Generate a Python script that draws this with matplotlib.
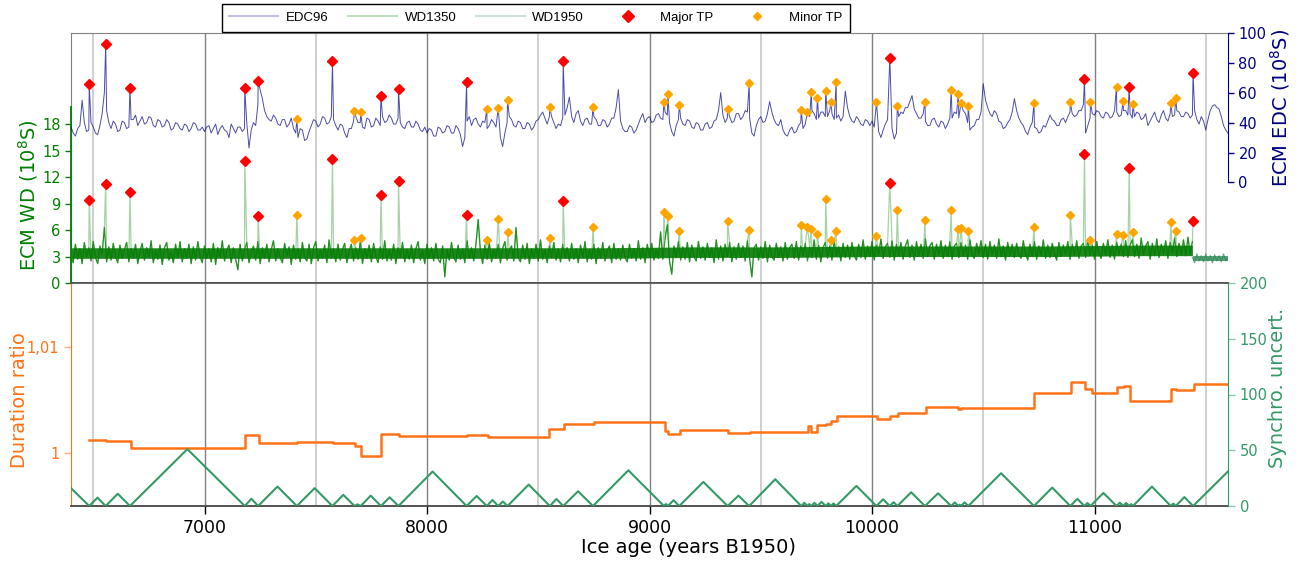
import numpy as np
import matplotlib
matplotlib.use("Agg")
import matplotlib.pyplot as plt
from matplotlib.lines import Line2D

# ── data ─────────────────────────────────────────────────────────────────────
# EDC96 ECM, one value every 10 years, 6400 → 11600 (10^8 S)
edc_age = np.arange(6400, 11601, 10)
edc96 = [37, 33, 31, 36, 38, 55, 40, 34, 35, 40, 37, 33, 32, 38, 46, 60, 48, 40, 36, 41,
         39, 34, 35, 41, 40, 36, 37, 42, 42, 45, 38, 41, 44, 39, 40, 44, 43, 38, 37, 42,
         41, 37, 38, 42, 40, 35, 36, 40, 39, 36, 35, 39, 38, 34, 36, 40, 39, 35, 35, 37,
         34, 37, 38, 33, 36, 39, 32, 36, 38, 35, 34, 30, 39, 36, 33, 37, 37, 34, 36, 40,
         23, 35, 40, 38, 52, 62, 56, 48, 44, 42, 41, 45, 43, 39, 38, 42, 42, 37, 39, 43,
         36, 33, 30, 36, 35, 28, 29, 34, 38, 42, 41, 37, 39, 44, 43, 39, 40, 44, 42, 38,
         35, 39, 38, 33, 30, 36, 36, 41, 44, 40, 40, 37, 36, 43, 42, 37, 38, 43, 41, 38,
         44, 40, 41, 45, 43, 39, 39, 43, 40, 37, 36, 40, 41, 37, 37, 41, 39, 35, 34, 37,
         33, 36, 35, 31, 31, 37, 36, 33, 34, 38, 37, 33, 33, 38, 36, 32, 24, 30, 41, 44,
         38, 42, 43, 39, 37, 41, 40, 36, 38, 42, 40, 37, 36, 30, 24, 33, 40, 44, 42, 38,
         37, 41, 40, 36, 36, 40, 39, 35, 37, 41, 42, 45, 47, 43, 39, 44, 44, 40, 36, 39,
         38, 43, 45, 50, 57, 44, 40, 46, 48, 41, 38, 42, 43, 39, 39, 44, 42, 38, 38, 42,
         41, 37, 39, 43, 43, 50, 62, 41, 36, 34, 34, 38, 37, 33, 35, 39, 43, 46, 40, 43,
         44, 40, 41, 45, 46, 43, 42, 47, 45, 40, 34, 31, 38, 42, 43, 39, 38, 42, 41, 37,
         36, 40, 39, 35, 35, 39, 40, 36, 37, 41, 42, 48, 60, 45, 40, 43, 44, 40, 41, 46,
         46, 42, 44, 48, 47, 43, 33, 31, 38, 42, 44, 40, 41, 46, 54, 47, 42, 39, 38, 42,
         35, 32, 31, 35, 37, 33, 34, 38, 40, 36, 39, 43, 44, 48, 46, 42, 43, 47, 47, 44,
         44, 48, 46, 42, 43, 45, 41, 44, 61, 50, 44, 41, 40, 44, 42, 39, 38, 42, 41, 38,
         41, 37, 38, 34, 30, 35, 39, 42, 40, 36, 29, 33, 44, 47, 46, 50, 50, 54, 58, 49,
         46, 43, 43, 46, 41, 38, 38, 42, 43, 39, 37, 41, 40, 36, 39, 43, 43, 47, 46, 43,
         44, 48, 46, 40, 35, 37, 38, 42, 42, 47, 66, 55, 50, 46, 44, 48, 46, 41, 40, 36,
         37, 40, 42, 47, 56, 48, 43, 40, 38, 34, 32, 37, 40, 37, 36, 33, 34, 38, 37, 41,
         45, 42, 41, 38, 38, 42, 43, 40, 44, 47, 46, 44, 45, 48, 48, 52, 33, 38, 43, 46,
         45, 48, 47, 44, 43, 47, 46, 43, 44, 48, 47, 44, 45, 48, 48, 45, 46, 43, 44, 47,
         46, 42, 43, 46, 38, 41, 44, 47, 42, 40, 45, 48, 43, 41, 46, 44, 45, 48, 47, 44,
         44, 47, 46, 43, 45, 48, 42, 39, 44, 41, 35, 42, 48, 51, 52, 50, 49, 44, 38, 35,
         33]

# WD1350 ECM, one value every 10 years, 6400 → 11440 (10^8 S)
wd_age = np.arange(6400, 11441, 10)
wd1350 = [3.1, 2.3, 4.4, 2.7, 3.9, 2.2, 4.6, 3.0, 4.0, 2.5, 4.7, 2.9, 2.2, 4.2, 3.3, 6.3, 2.4, 4.1, 2.6, 4.5, 3.0, 2.3, 4.3, 2.8, 3.8,
          4.6, 2.4, 3.9, 2.8, 4.4, 2.2, 3.6, 4.5, 2.6, 4.0, 2.9, 4.8, 2.3, 3.7, 2.7, 4.3, 2.1, 4.0, 4.6, 2.6, 3.5, 2.3, 4.4, 2.9, 4.7,
          2.4, 3.9, 2.8, 4.4, 2.2, 4.1, 2.6, 4.7, 3.0, 2.3, 4.2, 2.8, 3.9, 2.4, 4.5, 2.1, 4.0, 2.9, 4.8, 2.5, 3.7, 4.3, 2.3, 4.0, 2.7,
          1.5, 4.4, 2.5, 3.8, 4.6, 2.3, 3.5, 4.2, 2.6, 4.7, 2.2, 4.0, 2.8, 4.4, 2.4, 3.8, 4.8, 2.5, 3.9, 2.9, 2.3, 4.5, 3.0, 4.1, 2.1,
          4.3, 2.7, 3.9, 2.4, 4.6, 2.9, 2.5, 4.4, 2.2, 4.0, 4.7, 2.5, 3.7, 2.8, 4.3, 2.3, 4.9, 2.8, 3.9, 2.4, 4.4, 2.6, 3.8, 4.5, 2.3,
          3.6, 4.4, 2.5, 4.0, 2.7, 4.7, 2.2, 3.9, 2.8, 4.3, 2.4, 4.5, 3.0, 2.3, 4.1, 2.7, 4.8, 2.5, 3.8, 2.6, 4.4, 2.2, 4.0, 2.9, 4.6,
          2.4, 3.8, 2.7, 4.3, 2.3, 3.9, 4.7, 2.6, 3.7, 2.2, 4.4, 2.8, 4.0, 2.5, 4.5, 2.7, 2.3, 4.2, 0.7, 3.8, 2.6, 4.6, 2.9, 2.4, 4.3,
          2.7, 3.9, 2.3, 4.8, 2.8, 4.0, 2.5, 4.4, 7.2, 3.6, 2.2, 4.3, 2.7, 4.6, 2.4, 3.8, 2.8, 4.4, 2.3, 3.9, 4.7, 2.6, 3.7, 4.2, 2.5,
          6.3, 2.9, 2.4, 4.3, 2.7, 4.5, 2.2, 3.9, 2.8, 4.4, 2.5, 4.9, 2.7, 3.8, 2.3, 4.2, 2.9, 4.6, 2.6, 3.9, 2.4, 4.4, 2.8, 4.0, 2.5,
          4.5, 2.7, 3.9, 2.3, 4.3, 2.9, 4.7, 2.4, 3.8, 2.7, 4.4, 2.2, 4.0, 2.8, 4.6, 2.5, 3.7, 4.2, 2.3, 4.5, 2.7, 3.9, 2.6, 4.3, 2.9,
          2.4, 4.4, 2.8, 3.9, 2.5, 4.8, 2.7, 4.0, 2.3, 4.4, 2.9, 4.5, 2.6, 3.8, 2.8, 5.8, 2.7, 5.0, 6.6, 2.5, 1.0, 4.2, 2.9, 4.7, 2.6,
          4.1, 2.7, 4.6, 2.4, 4.3, 3.0, 2.5, 4.7, 2.8, 4.1, 2.6, 4.5, 2.9, 4.0, 2.3, 4.9, 2.7, 4.2, 2.5, 4.4, 3.0, 4.6, 2.4, 4.1, 2.7,
          4.5, 2.9, 4.2, 2.5, 4.8, 2.7, 0.7, 4.0, 4.4, 2.6, 4.1, 2.8, 4.7, 2.4, 4.3, 3.0, 2.6, 4.5, 2.9, 4.1, 2.5, 4.6, 2.7, 4.0, 4.4,
          2.8, 4.7, 2.6, 4.2, 3.0, 4.5, 2.5, 4.1, 2.9, 4.9, 2.7, 4.3, 2.4, 4.0, 4.6, 2.8, 4.2, 2.6, 4.8, 3.0, 4.1, 2.5, 4.5, 2.9, 4.3,
          2.7, 4.6, 3.1, 2.6, 4.4, 2.9, 4.9, 2.7, 4.2, 3.0, 4.7, 2.6, 4.3, 3.2, 5.0, 2.8, 4.1, 4.5, 2.9, 4.8, 2.6, 4.4, 3.1, 4.6, 2.7,
          4.2, 4.9, 2.9, 4.3, 2.6, 4.7, 3.1, 4.4, 2.8, 5.0, 3.0, 4.2, 4.6, 2.7, 4.4, 3.2, 4.8, 2.8, 4.3, 3.0, 4.7, 2.7, 4.2, 4.5, 2.9,
          4.6, 3.1, 4.3, 2.7, 4.9, 3.2, 2.8, 4.5, 3.3, 4.8, 2.9, 4.4, 2.7, 4.7, 3.2, 4.3, 2.8, 5.0, 3.0, 4.2, 2.6, 4.6, 3.1, 4.4, 2.9,
          4.5, 3.2, 2.8, 4.8, 3.3, 2.6, 4.4, 3.0, 4.7, 2.7, 4.2, 3.1, 4.9, 2.8, 4.3, 2.9, 4.5, 3.3, 2.6, 4.6, 3.0, 4.3, 3.2, 4.7, 2.7,
          4.4, 3.1, 4.8, 2.8, 4.2, 4.5, 2.9, 5.0, 3.1, 4.3, 2.7, 4.7, 3.3, 2.8, 4.5, 3.2, 4.9, 2.9, 4.3, 2.7, 4.6, 3.2, 4.4, 3.0, 4.8,
          2.9, 4.3, 4.9, 3.0, 4.4, 2.8, 5.1, 3.2, 4.2, 4.7, 2.7, 4.5, 3.1, 5.0, 2.9, 4.4, 3.3, 4.8, 2.8, 4.6, 3.4, 5.1, 3.0, 4.5, 3.2,
          4.9, 3.1, 5.2, 3.3, 4.7]

# dark core of the dense WD1350 band (lower / upper edge), every 400 years
wd_band_age = [6400, 6800, 7200, 7600, 8000, 8400, 8800, 9200, 9600, 10000, 10400, 10800, 11200, 11440]
wd_band_low = [2.8, 2.8, 2.8, 2.8, 2.8, 2.8, 2.8, 2.9, 2.9, 3.0, 3.0, 3.0, 3.1, 3.1]
wd_band_high = [4.0, 4.0, 4.0, 4.0, 4.0, 4.0, 4.0, 4.1, 4.1, 4.2, 4.2, 4.2, 4.3, 4.3]

# WD1950 ECM, one value every 10 years, 11440 → 11600
wd1950_age = np.arange(11440, 11601, 10)
wd1950 = [2.9, 2.3, 3.3, 2.5, 3.1, 2.4, 3.3, 2.5, 3.1, 2.3, 3.2, 2.5, 3.1, 2.4, 3.3, 2.5, 2.9]
wd1950_band_age = [11443, 11600]
wd1950_band_low = [2.55, 2.55]
wd1950_band_high = [3.05, 3.05]

# tie points: age, EDC96 value, WD value
major_age = [6482, 6556, 6665, 7181, 7241, 7575, 7793, 7872, 8178, 8612, 10080, 10955, 11156, 11443]
major_edc = [65.5, 92.5, 63.3, 62.9, 68, 80.9, 57.5, 62.2, 67.1, 80.9, 82.9, 69.1, 64, 72.9]
major_wd = [9.37, 11.27, 10.28, 13.84, 7.6, 14.03, 9.94, 11.58, 7.76, 9.29, 11.39, 14.64, 13.04, 7.03]

minor_age = [7415, 7674, 7702, 8269, 8320, 8362, 8552, 8746, 9065, 9083, 9134, 9351, 9448, 9682,
             9710, 9727, 9755, 9792, 9816, 9839, 10020, 10114, 10238, 10356, 10388, 10400, 10433,
             10728, 10891, 10982, 11099, 11129, 11173, 11343, 11365]
minor_edc = [42.7, 47.5, 47.1, 49.1, 49.8, 55.1, 50.2, 50.2, 54, 59.3, 52, 49.1, 66.7, 48.2,
             47.1, 60.2, 56.2, 61.3, 54, 67.1, 53.5, 50.9, 54, 61.8, 59.3, 52.9, 51.3,
             52.9, 53.5, 53.5, 64, 54.5, 52.4, 53.3, 56.2]
minor_wd = [7.76, 4.85, 5.12, 4.85, 7.3, 5.73, 5.12, 6.3, 8.06, 7.65, 5.92, 7.03, 6.0, 6.57,
            6.38, 6.11, 5.58, 9.48, 4.85, 5.92, 5.31, 8.29, 7.11, 8.29, 6.11, 6.23, 5.85,
            6.38, 7.76, 4.93, 5.58, 5.43, 5.73, 6.92, 5.92]

# duration ratio (step function, value holds until next age)
ratio_age = [6482, 6557, 6668, 7183, 7243, 7417, 7577, 7675, 7703, 7794, 7872, 8179, 8273, 8550,
             8616, 8749, 9068, 9085, 9135, 9353, 9450, 9712, 9728, 9755, 9792, 9815, 9842, 10023,
             10080, 10117, 10241, 10388, 10402, 10730, 10894, 10958, 10988, 11102, 11132, 11159,
             11346, 11366, 11447, 11600]
ratio_val = [1.00123, 1.0011, 1.00044, 1.0017, 1.00094, 1.00104, 1.00091, 1.00069, 0.99972, 1.00179,
             1.00163, 1.00173, 1.00148, 1.00224, 1.0027, 1.0029, 1.0021, 1.00179, 1.00217, 1.00189,
             1.00195, 1.00255, 1.00201, 1.00261, 1.0027, 1.00305, 1.00349, 1.00321, 1.00343, 1.00374,
             1.00428, 1.00416, 1.00421, 1.0056, 1.0067, 1.006, 1.0056, 1.00616, 1.00626, 1.00488,
             1.00601, 1.00588, 1.00648, 1.00648]

# synchronisation uncertainty (years)
unc_age = [6400, 6482, 6519, 6556, 6610, 6665, 6923, 7181, 7211, 7241, 7328, 7415, 7495, 7575,
           7624, 7674, 7688, 7702, 7747, 7793, 7832, 7872, 8025, 8178, 8223, 8269, 8294, 8320,
           8341, 8362, 8457, 8552, 8582, 8612, 8679, 8746, 8905, 9065, 9074, 9083, 9108, 9134,
           9242, 9351, 9400, 9448, 9565, 9682, 9696, 9710, 9718, 9727, 9741, 9755, 9773, 9792,
           9804, 9816, 9827, 9839, 9930, 10020, 10050, 10080, 10097, 10114, 10176, 10238, 10297,
           10356, 10372, 10388, 10394, 10400, 10416, 10433, 10580, 10728, 10810, 10891, 10923,
           10955, 10968, 10982, 11040, 11099, 11114, 11129, 11142, 11156, 11164, 11173, 11258,
           11343, 11354, 11365, 11404, 11443, 11600]
unc_val = [16, 0, 7.5, 0, 11, 0, 51, 0, 6.5, 0, 17.4, 0, 16, 0,
           10, 0, 1.5, 0, 9.3, 0, 7.8, 0, 30.9, 0, 9, 0, 5.4, 0,
           4, 0, 19.2, 0, 6.3, 0, 13.2, 0, 32, 0, 1.8, 0, 5.2, 0,
           21.6, 0, 9.3, 0, 24, 0, 2.8, 0, 1.7, 0, 2.8, 0, 3.7, 0,
           2.4, 0, 2.3, 0, 18, 0, 6, 0, 3.4, 0, 12.3, 0, 11.4,
           0, 3.2, 0, 1.2, 0, 3.3, 0, 29.4, 0, 16.5, 0, 6.4,
           0, 2.7, 0, 11.7, 0, 3, 0, 2.7, 0, 1.7, 0, 17.4,
           0, 2.2, 0, 8, 0, 31]

# ── colours ──────────────────────────────────────────────────────────────────
C_EDC = "navy"
C_WD = "green"
C_WD19 = "seagreen"
C_RAT = "#ff7216"
C_UNC = "#339966"

tp_age = np.array(major_age + minor_age)


def with_tp(ages, vals, tp_vals):
    # put the tie-point peaks into the series
    keep = ~np.isin(ages, tp_age)
    a = np.concatenate([ages[keep], tp_age])
    v = np.concatenate([np.asarray(vals, float)[keep], tp_vals])
    o = np.argsort(a, kind="stable")
    return a[o], v[o]


edc_x, edc_y = with_tp(edc_age, edc96, np.array(major_edc + minor_edc))
wd_x, wd_y = with_tp(wd_age, wd1350, np.array(major_wd + minor_wd))

W, H = 1305, 565
fig = plt.figure(figsize=(W / 100, H / 100), dpi=100)
L, R = 71 / W, 1228 / W
ax1 = fig.add_axes([L, 1 - 283 / H, R - L, (283 - 32.7) / H])
ax2 = fig.add_axes([L, 1 - 506 / H, R - L, (506 - 283) / H])
XMIN, XMAX = 6400, 11600

for ax in (ax1, ax2):
    ax.set_xlim(XMIN, XMAX)
    for g in range(6500, 11600, 500):
        major = g % 1000 == 0
        ax.axvline(g, color="#808080" if major else "#cccccc", lw=1.0 if major else 1.3, zorder=0)

# ── top panel ────────────────────────────────────────────────────────────────
ax1r = ax1.twinx()
ax1.fill_between(wd_band_age, wd_band_low, wd_band_high, color="#0a780a", alpha=0.9, lw=0, zorder=1.5)
ax1.fill_between(wd1950_band_age, wd1950_band_low, wd1950_band_high, color=C_WD19, alpha=0.8, lw=0, zorder=1.5)
ax1.plot(wd_x, wd_y, color=C_WD, lw=0.9, alpha=0.35, zorder=2)
ax1.plot(wd_age, wd1350, color=C_WD, lw=0.9, alpha=0.8, zorder=2)
ax1.plot(wd1950_age, wd1950, color=C_WD19, lw=0.9, alpha=0.7, zorder=2)
ax1.plot(major_age, major_wd, ls="none", marker="D", ms=5, color="red", mec="red", zorder=5)
ax1.plot(minor_age, minor_wd, ls="none", marker="D", ms=4, color="orange", mec="orange", zorder=5)
ax1.set_ylim(0, 28.4)
ax1.set_yticks(range(0, 19, 3))
ax1.tick_params(axis="y", colors=C_WD, labelsize=10.5, length=4, width=1, direction="out")
ax1.tick_params(axis="x", bottom=False, labelbottom=False)
for s in ("top", "left", "bottom"):
    ax1.spines[s].set_color("#808080")
ax1.spines["bottom"].set_color("#555555")
ax1.spines["bottom"].set_linewidth(1.3)
ax1.spines["right"].set_visible(False)
ax1.plot([0, 0], [0, 20], transform=ax1.get_yaxis_transform(), color=C_WD, lw=1.3,
         clip_on=False, zorder=6)
ax1.set_ylabel("ECM WD (10$^{8}$S)", color=C_WD, fontsize=14)
ax1.yaxis.set_label_coords(-0.027, 10 / 28.4)

ax1r.plot(edc_x, edc_y, color=C_EDC, lw=0.7, alpha=0.7, zorder=2)
ax1r.plot(major_age, major_edc, ls="none", marker="D", ms=5, color="red", mec="red", zorder=5)
ax1r.plot(minor_age, minor_edc, ls="none", marker="D", ms=4, color="orange", mec="orange", zorder=5)
ax1r.set_ylim(-67.1, 100)
ax1r.set_yticks(range(0, 101, 20))
ax1r.tick_params(axis="y", colors=C_EDC, labelsize=10.5, length=4, width=1)
for s in ("top", "left", "bottom"):
    ax1r.spines[s].set_visible(False)
ax1r.spines["right"].set_color(C_EDC)
ax1r.spines["right"].set_bounds(0, 100)
ax1r.set_ylabel("ECM EDC (10$^{8}$S)", color=C_EDC, fontsize=14)
ax1r.yaxis.set_label_coords(1.035, (50 + 67.1) / 167.1)

# ── bottom panel ─────────────────────────────────────────────────────────────
ax2r = ax2.twinx()
ax2.plot(ratio_age, ratio_val, drawstyle="steps-post", color=C_RAT, lw=1.8, zorder=3)
ax2.set_ylim(0.995, 1.016)
ax2.set_yticks([1, 1.01])
ax2.set_yticklabels(["1", "1,01"])
ax2.tick_params(axis="y", colors="#ffb27f", labelcolor=C_RAT, labelsize=10.5, length=5, width=1)
ax2.set_xticks(range(7000, 11001, 1000))
ax2.tick_params(axis="x", labelsize=12.5, length=6, width=1)
ax2.spines["left"].set_color(C_RAT)
ax2.spines["right"].set_visible(False)
ax2.spines["top"].set_color("#555555")
ax2.spines["top"].set_linewidth(1.3)
ax2.spines["bottom"].set_color("#444444")
ax2.spines["bottom"].set_linewidth(1.3)
ax2.set_ylabel("Duration ratio", color=C_RAT, fontsize=14)
ax2.yaxis.set_label_coords(-0.036, 0.475)
ax2.set_xlabel("Ice age (years B1950)", fontsize=14)
ax2.xaxis.set_label_coords(0.534, -0.145)

ax2r.plot(unc_age, unc_val, color=C_UNC, lw=1.5, zorder=3)
ax2r.set_ylim(0, 200)
ax2r.set_yticks(range(0, 201, 50))
ax2r.tick_params(axis="y", colors="#8cc4a4", labelcolor=C_UNC, labelsize=10.5, length=5, width=1)
for s in ("top", "left", "bottom"):
    ax2r.spines[s].set_visible(False)
ax2r.spines["right"].set_color(C_UNC)
ax2r.set_ylabel("Synchro. uncert.", color=C_UNC, fontsize=14)
ax2r.yaxis.set_label_coords(1.035, 0.53)

# ── legend ───────────────────────────────────────────────────────────────────
handles = [Line2D([], [], color=C_EDC, alpha=0.25, lw=1.5),
           Line2D([], [], color=C_WD, alpha=0.25, lw=1.5),
           Line2D([], [], color=C_WD19, alpha=0.25, lw=1.5),
           Line2D([], [], ls="none", marker="D", ms=6, color="red"),
           Line2D([], [], ls="none", marker="D", ms=4.5, color="orange")]
labels = ["EDC96", "WD1350", "WD1950", "Major TP", "Minor TP"]
leg = fig.legend(handles, labels, ncol=5, loc="lower center", bbox_to_anchor=(536 / W, 1 - 32 / H),
                 prop={"family": "Liberation Sans", "size": 9.5}, frameon=True, fancybox=False,
                 edgecolor="black", framealpha=1, handlelength=3.7, handletextpad=0.6,
                 columnspacing=1.45, borderpad=0.6, borderaxespad=0)
leg.get_frame().set_linewidth(1.0)

fig.savefig("out.png", dpi=100)
